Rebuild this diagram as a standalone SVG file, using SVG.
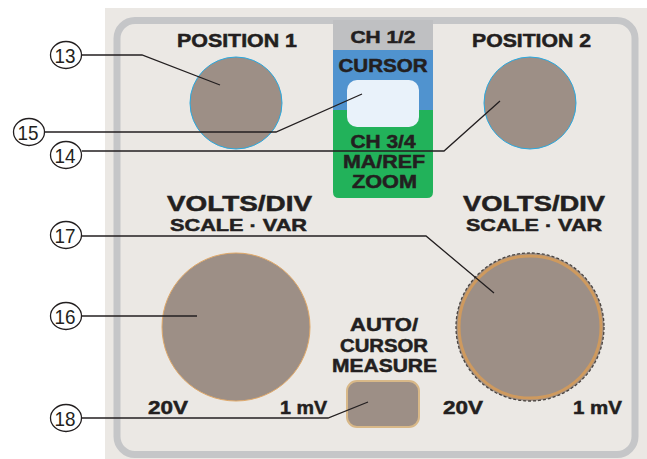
<svg xmlns="http://www.w3.org/2000/svg" width="647" height="459" viewBox="0 0 647 459">
<style>
.lbl{font-family:"Liberation Sans",Arial,sans-serif;font-weight:bold;fill:#231f20;stroke:#231f20;stroke-width:0.5;text-anchor:middle}
.num{font-family:"Liberation Sans",Arial,sans-serif;font-size:21px;fill:#231f20;text-anchor:middle}
.co{fill:#ffffff;stroke:#231f20;stroke-width:1.3}
.knob{fill:#9d8f86}
.ln{fill:none;stroke:#231f20;stroke-width:1.3}
</style>
<rect x="0" y="0" width="647" height="459" fill="#ffffff"/>
<g id="panel">
<rect x="105" y="8" width="542" height="451" fill="#ebe8e4"/>
<rect x="117" y="20.5" width="518" height="434" rx="18" fill="none" stroke="#c5c6c8" stroke-width="7"/>
</g>
<g id="ch-select">
<path d="M333 20 H433 V192 Q433 198 427 198 H339 Q333 198 333 192 Z" fill="#22b25a"/>
<rect x="333" y="50" width="100" height="60" fill="#5093cf"/>
<rect x="333" y="20" width="100" height="30" fill="#bfc0c2"/>
<text class="lbl" x="383" y="43" font-size="17" textLength="65" lengthAdjust="spacingAndGlyphs">CH 1/2</text>
<text class="lbl" x="383" y="72" font-size="18" textLength="89" lengthAdjust="spacingAndGlyphs">CURSOR</text>
<rect x="347" y="80" width="72" height="47" rx="10" fill="#e9f2fa"/>
<text class="lbl" x="383" y="148" font-size="18" textLength="65" lengthAdjust="spacingAndGlyphs">CH 3/4</text>
<text class="lbl" x="384" y="168" font-size="18" textLength="82" lengthAdjust="spacingAndGlyphs">MA/REF</text>
<text class="lbl" x="384.5" y="188" font-size="18" textLength="65" lengthAdjust="spacingAndGlyphs">ZOOM</text>
</g>
<g id="position1">
<text class="lbl" x="237" y="47" font-size="18" textLength="120" lengthAdjust="spacingAndGlyphs">POSITION 1</text>
<circle class="knob" cx="236" cy="103" r="46" stroke="#29a9e0" stroke-width="1"/>
</g>
<g id="position2">
<text class="lbl" x="531.5" y="47" font-size="18" textLength="119" lengthAdjust="spacingAndGlyphs">POSITION 2</text>
<circle class="knob" cx="530" cy="103" r="46" stroke="#29a9e0" stroke-width="1"/>
</g>
<g id="volts1">
<text class="lbl" x="239.5" y="210.5" font-size="21.5" textLength="145" lengthAdjust="spacingAndGlyphs">VOLTS/DIV</text>
<text class="lbl" x="238.5" y="231" font-size="17" textLength="137" lengthAdjust="spacingAndGlyphs">SCALE · VAR</text>
<circle class="knob" cx="236" cy="327" r="74" stroke="#e0a868" stroke-width="1"/>
<text class="lbl" x="168" y="414" font-size="19" textLength="40" lengthAdjust="spacingAndGlyphs">20V</text>
<text class="lbl" x="303.5" y="414" font-size="19" textLength="47" lengthAdjust="spacingAndGlyphs">1 mV</text>
</g>
<g id="volts2">
<text class="lbl" x="534" y="210.5" font-size="21.5" textLength="142" lengthAdjust="spacingAndGlyphs">VOLTS/DIV</text>
<text class="lbl" x="534" y="231" font-size="17" textLength="136" lengthAdjust="spacingAndGlyphs">SCALE · VAR</text>
<circle class="knob" cx="530" cy="327" r="74" stroke="#4a4440" stroke-width="1.3" stroke-dasharray="3 2"/>
<circle cx="530" cy="327" r="71" fill="none" stroke="#cf9a5e" stroke-width="3"/>
<text class="lbl" x="463" y="414" font-size="19" textLength="40" lengthAdjust="spacingAndGlyphs">20V</text>
<text class="lbl" x="597.5" y="414" font-size="19" textLength="49" lengthAdjust="spacingAndGlyphs">1 mV</text>
</g>
<g id="auto-measure">
<text class="lbl" x="384" y="331" font-size="18" textLength="68" lengthAdjust="spacingAndGlyphs">AUTO/</text>
<text class="lbl" x="384" y="352" font-size="18" textLength="88" lengthAdjust="spacingAndGlyphs">CURSOR</text>
<text class="lbl" x="384.5" y="372" font-size="18" textLength="105" lengthAdjust="spacingAndGlyphs">MEASURE</text>
<rect x="347" y="381" width="72" height="46" rx="10" fill="#9d8f86" stroke="#d8b888" stroke-width="2"/>
</g>
<g id="connectors">
<polyline class="ln" points="81,55 142,55 220,85"/>
<polyline class="ln" points="44,132 276,132 362,94"/>
<polyline class="ln" points="82,151 444,151 500,101"/>
<polyline class="ln" points="82,236 426,236 494,293"/>
<polyline class="ln" points="82,316 197,316"/>
<polyline class="ln" points="82,418 328,418 368,402"/>
</g>
<g id="callout13"><ellipse class="co" cx="66" cy="55" rx="15.5" ry="13.5"/><text class="num" x="65" y="62.5" textLength="21" lengthAdjust="spacingAndGlyphs">13</text></g>
<g id="callout15"><ellipse class="co" cx="29" cy="132" rx="15.5" ry="13.5"/><text class="num" x="28" y="139.5" textLength="21" lengthAdjust="spacingAndGlyphs">15</text></g>
<g id="callout14"><ellipse class="co" cx="66" cy="155" rx="15.5" ry="13.5"/><text class="num" x="65" y="162.5" textLength="21" lengthAdjust="spacingAndGlyphs">14</text></g>
<g id="callout17"><ellipse class="co" cx="66" cy="235" rx="15.5" ry="13.5"/><text class="num" x="65" y="242.5" textLength="21" lengthAdjust="spacingAndGlyphs">17</text></g>
<g id="callout16"><ellipse class="co" cx="66" cy="316" rx="15.5" ry="13.5"/><text class="num" x="65" y="323.5" textLength="21" lengthAdjust="spacingAndGlyphs">16</text></g>
<g id="callout18"><ellipse class="co" cx="66" cy="418" rx="15.5" ry="13.5"/><text class="num" x="65" y="425.5" textLength="21" lengthAdjust="spacingAndGlyphs">18</text></g>
</svg>
